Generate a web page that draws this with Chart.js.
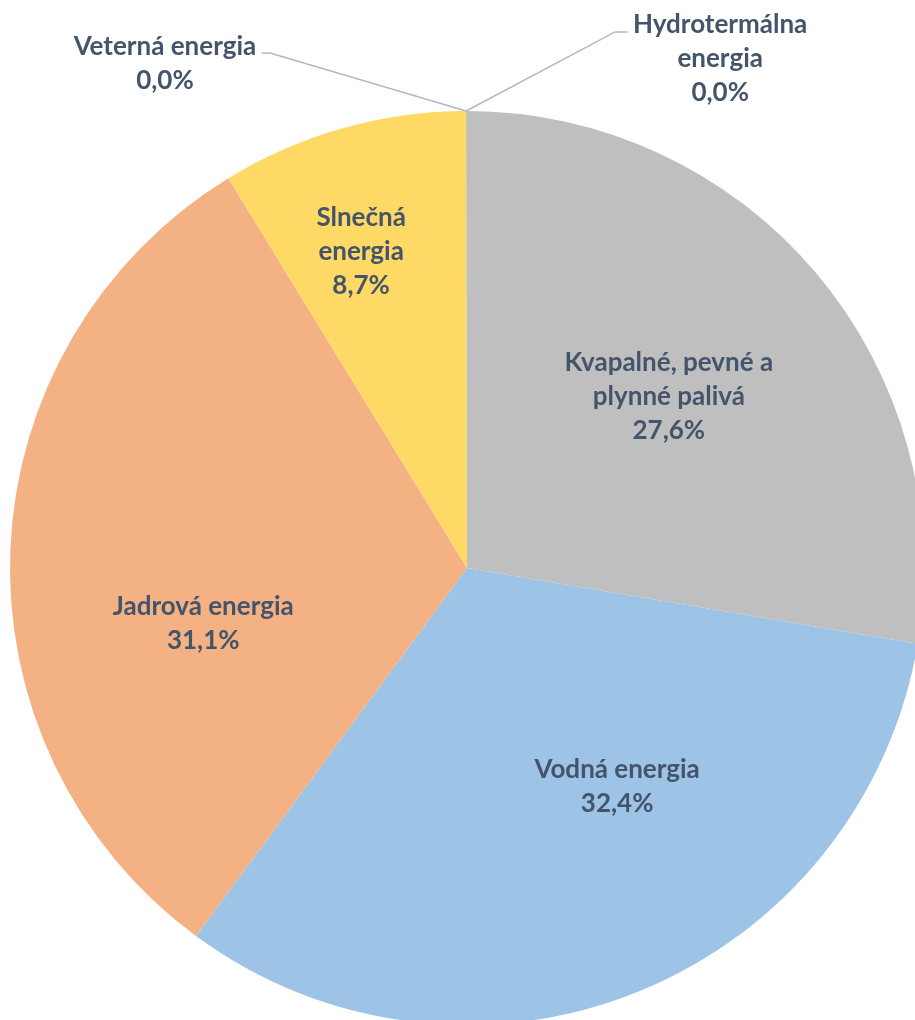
<!DOCTYPE html>
<html>
<head>
<meta charset="utf-8">
<script src="https://cdn.jsdelivr.net/npm/chart.js@4"></script>
<style>
  html, body { margin: 0; padding: 0; background: #fff; overflow: hidden; }
  #wrap { position: absolute; left: 0; top: 0; width: 934px; height: 1136px; }
</style>
</head>
<body>
<div id="wrap"><canvas id="pieChart" width="934" height="1136"></canvas></div>
<script>
  // Podiel zdrojov na výrobe elektriny (%)
  const labels = [
    ['Kvapalné, pevné a', 'plynné palivá'],
    ['Vodná energia'],
    ['Jadrová energia'],
    ['Slnečná', 'energia'],
    ['Veterná energia'],
    ['Hydrotermálna', 'energia']
  ];
  const values = [27.6, 32.4, 31.1, 8.7, 0.0, 0.03];
  const shownValues = ['27,6%', '32,4%', '31,1%', '8,7%', '0,0%', '0,0%'];
  const colors = ['#BFBFBF', '#9DC3E6', '#F4B183', '#FFD966', '#8FAADC', '#A9D18E'];

  // umiestnenie popisov: [podiel polomeru, uhol od vrcholu v stupňoch]
  const labelPolar = [[0.58, 49.6], [0.58, 145.5], [0.59, 258], [0.73, 341.5], null, null];
  // popisy mimo koláča s odkazovou čiarou (relatívne k stredu, v násobkoch polomeru)
  const outside = {
    4: { elbow: [-0.431, -1.127], end: [-0.449, -1.127], text: [-0.661, -1.140] },
    5: { elbow: [0.324, -1.173], end: [0.352, -1.173], text: [0.554, -1.188] }
  };

  const textColor = '#44546A';
  const fontSpec = 'bold 26px Lato';
  const lineH = 34;

  const labelPlugin = {
    id: 'sliceLabels',
    afterDatasetsDraw(chart) {
      const ctx = chart.ctx;
      const meta = chart.getDatasetMeta(0);
      const arc0 = meta.data[0];
      const cx = arc0.x, cy = arc0.y, R = arc0.outerRadius;
      ctx.save();
      ctx.font = fontSpec;
      ctx.fillStyle = textColor;
      ctx.textAlign = 'center';
      ctx.textBaseline = 'middle';
      meta.data.forEach((arc, i) => {
        const lines = labels[i].concat([shownValues[i]]);
        if (labelPolar[i]) {
          const [f, deg] = labelPolar[i];
          const a = deg * Math.PI / 180;
          const x = cx + Math.sin(a) * R * f;
          const y = cy - Math.cos(a) * R * f;
          const y0 = y - (lines.length - 1) * lineH / 2;
          lines.forEach((t, k) => ctx.fillText(t, x, y0 + k * lineH));
        } else if (outside[i]) {
          const o = outside[i];
          const px = cx + Math.cos(arc.startAngle) * R;
          const py = cy + Math.sin(arc.startAngle) * R;
          ctx.strokeStyle = '#ADB9CA';
          ctx.lineWidth = 1.5;
          ctx.beginPath();
          ctx.moveTo(px, py);
          ctx.lineTo(cx + o.elbow[0] * R, cy + o.elbow[1] * R);
          ctx.lineTo(cx + o.end[0] * R, cy + o.end[1] * R);
          ctx.stroke();
          const x = cx + o.text[0] * R;
          const y = cy + o.text[1] * R;
          lines.forEach((t, k) => ctx.fillText(t, x, y + k * lineH));
        }
      });
      ctx.restore();
    }
  };

  const pieCtx = document.getElementById('pieChart').getContext('2d');
  const pieChart = new Chart(pieCtx, {
    type: 'pie',
    data: {
      labels: labels.map(l => l.join(' ')),
      datasets: [{
        data: values,
        backgroundColor: colors,
        borderWidth: 0
      }]
    },
    options: {
      responsive: false,
      animation: false,
      layout: { padding: 10 },
      plugins: {
        legend: { display: false },
        tooltip: { enabled: false }
      }
    },
    plugins: [labelPlugin]
  });
</script>
</body>
</html>
